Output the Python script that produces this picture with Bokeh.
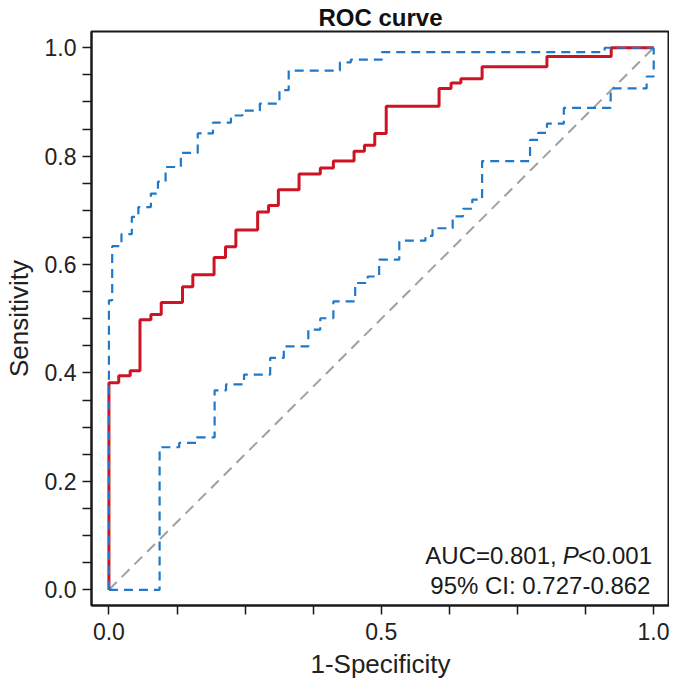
from bokeh.plotting import figure
from bokeh.models import Range1d, FixedTicker, PrintfTickFormatter, Label
from bokeh.embed import file_html
from bokeh.resources import INLINE

# ROC curve: points where the curve rises (fpr, tpr)
roc_fpr = [0.0, 0.018, 0.039, 0.057, 0.077, 0.096, 0.135, 0.154, 0.193, 0.214, 0.233, 0.273,
           0.293, 0.311, 0.349, 0.388, 0.412, 0.450, 0.469, 0.488, 0.509, 0.606, 0.628, 0.646,
           0.685, 0.804, 0.922, 1.0]
roc_tpr = [0.382, 0.395, 0.404, 0.498, 0.508, 0.530, 0.559, 0.581, 0.613, 0.633, 0.664, 0.697,
           0.709, 0.738, 0.767, 0.778, 0.791, 0.809, 0.820, 0.842, 0.892, 0.925, 0.935, 0.943,
           0.965, 0.984, 1.0, 1.0]

# Upper 95% CI band
upper_fpr = [0.0, 0.006, 0.023, 0.042, 0.054, 0.077, 0.090, 0.104, 0.132, 0.163, 0.191, 0.224,
             0.245, 0.277, 0.313, 0.330, 0.424, 0.444, 0.501, 0.910, 1.0]
upper_tpr = [0.534, 0.634, 0.656, 0.688, 0.706, 0.731, 0.753, 0.780, 0.806, 0.842, 0.862, 0.875,
             0.884, 0.897, 0.922, 0.958, 0.973, 0.978, 0.992, 1.0, 1.0]

# Lower 95% CI band
lower_fpr = [0.093, 0.129, 0.161, 0.194, 0.215, 0.248, 0.296, 0.321, 0.366, 0.388, 0.412, 0.452,
             0.475, 0.496, 0.533, 0.581, 0.594, 0.631, 0.650, 0.667, 0.685, 0.773, 0.788, 0.804,
             0.835, 0.921, 0.987, 1.0]
lower_tpr = [0.263, 0.271, 0.281, 0.368, 0.379, 0.397, 0.428, 0.449, 0.480, 0.501, 0.532, 0.566,
             0.578, 0.609, 0.644, 0.653, 0.667, 0.689, 0.703, 0.720, 0.791, 0.830, 0.843, 0.860,
             0.889, 0.925, 0.947, 1.0]

ref_x = [0.0, 1.0]
ref_y = [0.0, 1.0]

x_major = [0.0, 0.5, 1.0]
x_minor = [0.125, 0.25, 0.375, 0.625, 0.75, 0.875]
y_major = [0.0, 0.2, 0.4, 0.6, 0.8, 1.0]
y_minor = [0.05, 0.1, 0.15, 0.25, 0.3, 0.35, 0.45, 0.5, 0.55, 0.65, 0.7, 0.75, 0.85, 0.9, 0.95]

auc_text = "AUC=0.801,"
p_text = "P"
p_value_text = "<0.001"
ci_text = "95% CI: 0.727-0.862"


def steps(xs, ys):
    vx, vy = [0.0], [0.0]
    for x, y in zip(xs, ys):
        vx += [x, x]
        vy += [vy[-1], y]
    return vx, vy


FONT = "Liberation Sans"

p = figure(width=669, height=681, output_backend="svg", toolbar_location=None,
           x_range=Range1d(-0.032, 1.029), y_range=Range1d(-0.029, 1.030),
           min_border_left=84, min_border_right=0, min_border_top=27, min_border_bottom=70,
           background_fill_color="white", border_fill_color="white")

p.title.text = "ROC curve"
p.title.align = "center"
p.title.text_font = FONT
p.title.text_font_size = "24px"
p.title.text_font_style = "bold"
p.title.text_color = "#111111"
p.title.standoff = 2

p.grid.visible = False
p.outline_line_color = "#1a1a1a"
p.outline_line_width = 2

for ax in (p.xaxis[0], p.yaxis[0]):
    ax.axis_line_width = 2
    ax.axis_line_color = "#1a1a1a"
    ax.major_tick_in = 0
    ax.major_tick_out = 9
    ax.minor_tick_in = 0
    ax.minor_tick_out = 9
    ax.major_tick_line_width = 1.5
    ax.minor_tick_line_width = 1.5
    ax.major_tick_line_color = "#1a1a1a"
    ax.minor_tick_line_color = "#1a1a1a"
    ax.major_label_text_font = FONT
    ax.major_label_text_font_size = "23px"
    ax.major_label_text_color = "#222222"
    ax.axis_label_text_font = FONT
    ax.axis_label_text_font_size = "26px"
    ax.axis_label_text_font_style = "normal"
    ax.axis_label_text_color = "#222222"
    ax.formatter = PrintfTickFormatter(format="%.1f")

p.xaxis.ticker = FixedTicker(ticks=x_major, minor_ticks=x_minor)
p.yaxis.ticker = FixedTicker(ticks=y_major, minor_ticks=y_minor)
p.xaxis.axis_label = "1-Specificity"
p.yaxis.axis_label = "Sensitivity"
p.xaxis.major_label_standoff = 8
p.yaxis.major_label_standoff = 6
p.xaxis.axis_label_standoff = 6
p.yaxis.axis_label_standoff = 8

# reference diagonal
p.line(ref_x, ref_y, line_color="#a0a0a0", line_width=2, line_dash="11 7")

rx, ry = steps(roc_fpr, roc_tpr)
p.line(rx, ry, line_color="#cc1424", line_width=3)

ux, uy = steps(upper_fpr, upper_tpr)
p.line(ux, uy, line_color="#1f78c8", line_width=2.2, line_dash="9 6")

lx, ly = steps(lower_fpr, lower_tpr)
p.line(lx, ly, line_color="#1f78c8", line_width=2.2, line_dash="9 6")

common = dict(text_font=FONT, text_font_size="24px", text_color="#1a1a1a",
              text_baseline="alphabetic")
p.add_layout(Label(x=0.822, y=0.064, text=auc_text, text_align="right", **common))
p.add_layout(Label(x=0.833, y=0.064, text=p_text, text_align="left",
                   text_font_style="italic", **common))
p.add_layout(Label(x=0.861, y=0.064, text=p_value_text, text_align="left", **common))
p.add_layout(Label(x=0.792, y=0.007, text=ci_text, text_align="center", **common))

open("out.html", "w").write(file_html(p, INLINE))
